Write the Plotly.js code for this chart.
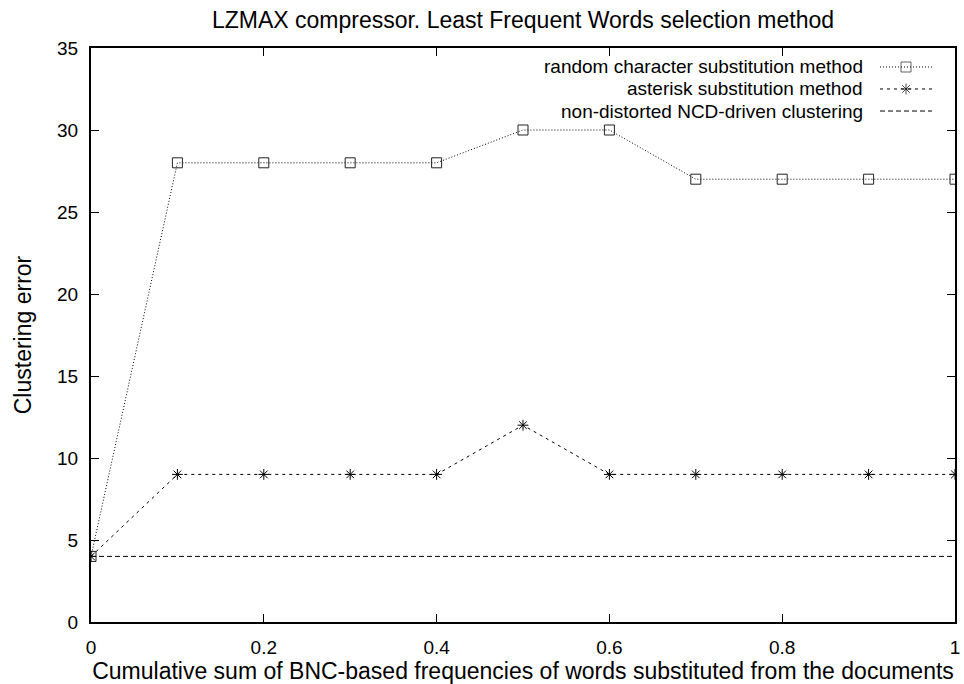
<!DOCTYPE html>
<html>
<head>
<meta charset="utf-8">
<script src="https://cdn.plot.ly/plotly-3.0.1.min.js"></script>
<style>html,body{margin:0;padding:0;background:#fff;}#chart{width:964px;height:684px;}</style>
</head>
<body>
<div id="chart"></div>
<script>
const xValues = [0, 0.1, 0.2, 0.3, 0.4, 0.5, 0.6, 0.7, 0.8, 0.9, 1.0];
const randomCharErr = [4, 28, 28, 28, 28, 30, 30, 27, 27, 27, 27];
const asteriskErr = [4, 9, 9, 9, 9, 12, 9, 9, 9, 9, 9];
const baselineX = [0, 1];
const baselineErr = [4, 4];
const seriesNames = ["random character substitution method", "asterisk substitution method", "non-distorted NCD-driven clustering"];
const xTickVals = [0, 0.2, 0.4, 0.6, 0.8, 1];
const xTickText = ["0", "0.2", "0.4", "0.6", "0.8", "1"];
const yTickVals = [0, 5, 10, 15, 20, 25, 30, 35];

const font = "Liberation Sans, Arial, Helvetica, sans-serif";
const dotDash = "1px,2px";
const shortDash = "3px,4px";
const longDash = "5px,3px";

const traces = [
  {x: xValues, y: randomCharErr, mode: "lines+markers", name: seriesNames[0],
   line: {color: "#000", width: 1, dash: dotDash},
   marker: {symbol: "square-open", size: 10, color: "#222", line: {width: 1}}},
  {x: xValues, y: asteriskErr, mode: "lines+markers", name: seriesNames[1],
   line: {color: "#000", width: 1, dash: shortDash},
   marker: {symbol: "asterisk-open", size: 9, color: "#000", line: {width: 1, color: "#000"}}},
  {x: baselineX, y: baselineErr, mode: "lines", name: seriesNames[2],
   line: {color: "#000", width: 1, dash: longDash}}
];

// legend samples (gnuplot style: text on the left, sample on the right)
const legY = [0.9669, 0.9286, 0.8902];
const sx = [0.9132, 0.9433, 0.9734];
const legendSamples = [
  {x: sx, y: [legY[0], legY[0], legY[0]], xaxis: "x2", yaxis: "y2", mode: "lines+markers",
   line: {color: "#000", width: 1, dash: dotDash},
   marker: {symbol: "square-open", size: [0, 10, 0], color: "#222", line: {width: 1}}},
  {x: sx, y: [legY[1], legY[1], legY[1]], xaxis: "x2", yaxis: "y2", mode: "lines+markers",
   line: {color: "#000", width: 1, dash: shortDash},
   marker: {symbol: "asterisk-open", size: [0, 9, 0], color: "#000", line: {width: 1, color: "#000"}}},
  {x: [sx[0], sx[2]], y: [legY[2], legY[2]], xaxis: "x2", yaxis: "y2", mode: "lines",
   line: {color: "#000", width: 1, dash: longDash}}
];

const annotations = seriesNames.map((n, i) => ({
  text: n, xref: "paper", yref: "paper", x: 0.8958, y: legY[i],
  xanchor: "right", yanchor: "middle", showarrow: false,
  font: {family: font, size: 19, color: "#000"}
}));

const layout = {
  width: 964, height: 684,
  margin: {l: 91, r: 9, t: 48, b: 62},
  paper_bgcolor: "#fff", plot_bgcolor: "#fff",
  showlegend: false,
  hovermode: false,
  font: {family: font, color: "#000", size: 19},
  title: {text: "LZMAX compressor. Least Frequent Words selection method",
          font: {family: font, size: 23, color: "#000"}, xref: "paper", x: 0.5, xanchor: "center",
          y: 0.9708, yanchor: "middle"},
  xaxis: {range: [0, 1], tickvals: xTickVals, ticktext: xTickText, ticks: "inside", ticklen: 8,
          tickcolor: "#000", tickwidth: 1, showline: true, linecolor: "#000", linewidth: 2, mirror: "ticks",
          showgrid: false, zeroline: false, tickfont: {family: font, size: 19}, ticklabelstandoff: 7,
          title: {text: "Cumulative sum of BNC-based frequencies of words substituted from the documents",
                  font: {family: font, size: 23}, standoff: 4}},
  yaxis: {range: [0, 35], tickvals: yTickVals, ticks: "inside", ticklen: 8,
          tickcolor: "#000", tickwidth: 1, showline: true, linecolor: "#000", linewidth: 2, mirror: "ticks",
          showgrid: false, zeroline: false, tickfont: {family: font, size: 19}, ticklabelstandoff: 7,
          title: {text: "Clustering error", font: {family: font, size: 23}, standoff: 19}},
  xaxis2: {overlaying: "x", range: [0, 1], visible: false},
  yaxis2: {overlaying: "y", range: [0, 1], visible: false},
  annotations: annotations
};

Plotly.newPlot("chart", traces.concat(legendSamples), layout, {displayModeBar: false, staticPlot: true});
</script>
</body>
</html>
